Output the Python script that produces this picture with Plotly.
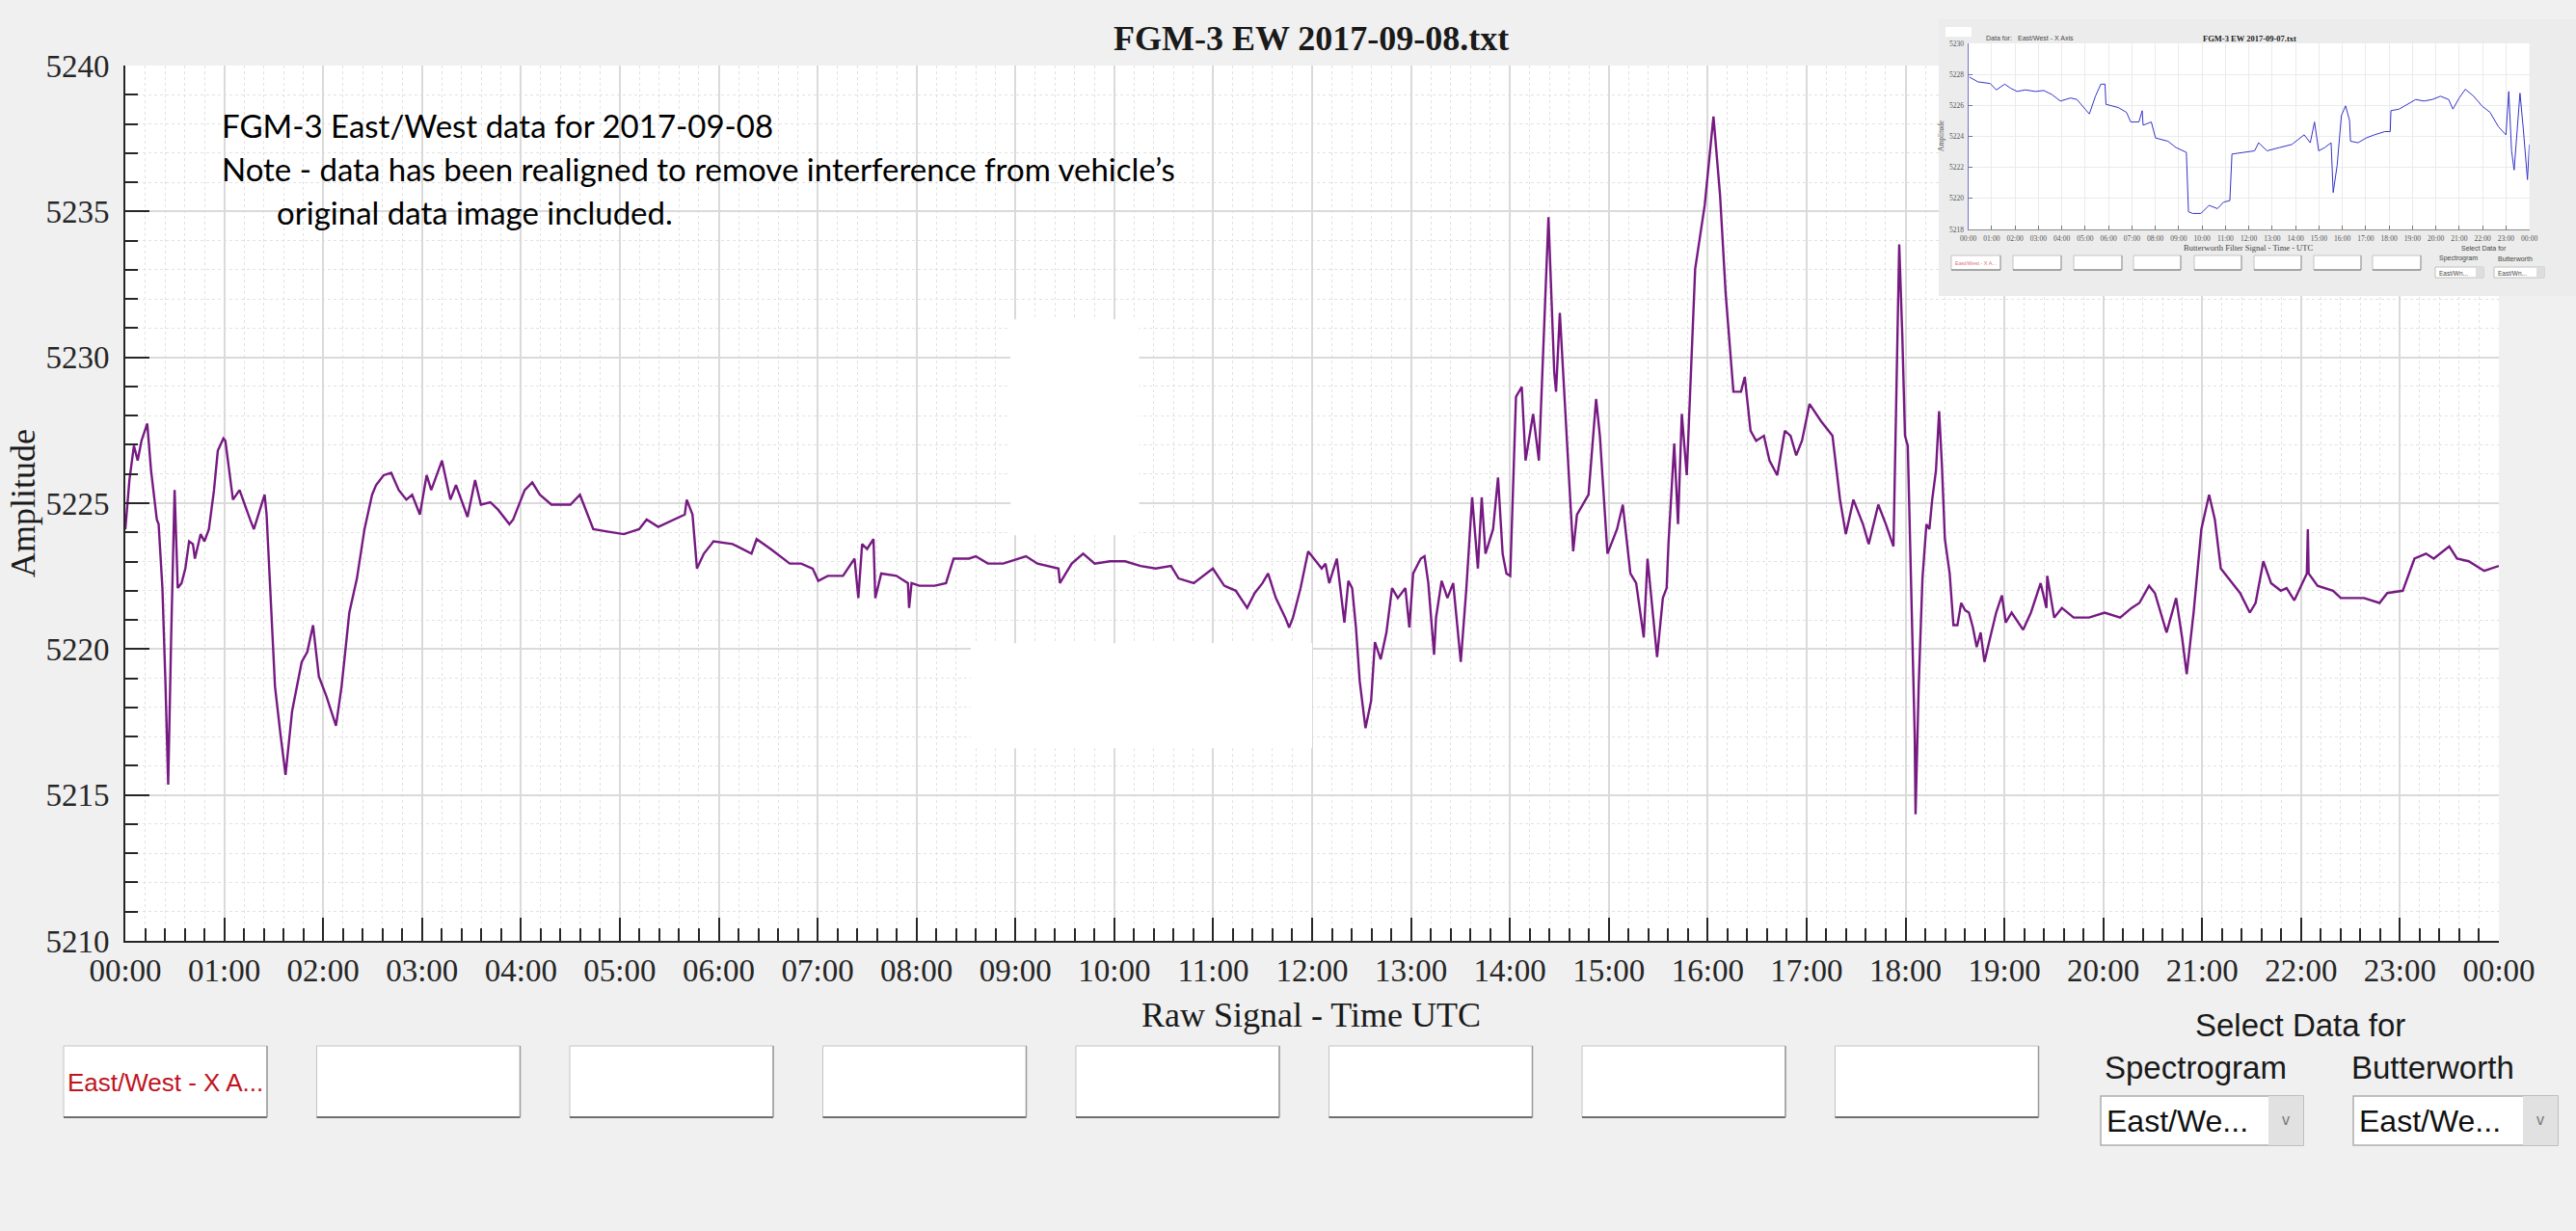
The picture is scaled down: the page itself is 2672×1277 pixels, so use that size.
import plotly.graph_objects as go

# ---------------- main series (time in minutes after 00:00 UTC, amplitude) ----------------
minutes = [
    0.0, 2.5, 5.2, 7.5, 9.8, 13.3, 15.6, 19.1, 20.2, 22.5, 24.4, 26.0, 27.8, 29.9, 31.8, 34.1,
    36.4, 38.7, 41.0, 42.2, 45.7, 48.0, 50.7, 53.8, 56.1, 59.5, 60.7, 63.0, 65.3, 69.3, 72.3,
    75.7, 78.0, 81.5, 84.5, 85.7, 88.4, 90.8, 94.2, 97.2, 101.2, 107.0, 110.4, 113.9, 117.4,
    122.0, 127.8, 131.2, 135.9, 140.5, 145.1, 149.7, 152.1, 156.7, 161.3, 165.9, 170.5, 174.0,
    178.7, 182.8, 185.6, 192.1, 197.2, 200.6, 207.6, 212.2, 215.7, 221.5, 226.1, 233.0, 235.3,
    242.3, 246.9, 251.5, 258.5, 270.0, 275.8, 279.3, 283.9, 293.2, 302.4, 311.7, 316.3, 323.3,
    332.5, 339.4, 340.6, 344.1, 346.8, 351.0, 355.6,
    356.8, 368.4, 379.9, 383.0, 391.5, 403.1, 410.0, 417.0, 420.4, 426.2, 435.4, 442.4, 444.7,
    447.0, 450.0, 453.9, 455.0, 458.6, 467.8, 474.8, 475.5, 477.0, 481.7, 491.0, 497.9, 502.5,
    511.8, 516.0, 523.3, 532.6, 541.8, 546.4, 553.4, 566.1, 567.0, 574.2, 581.1, 588.1, 597.4,
    606.6, 615.9, 625.1, 634.4, 639.0, 648.2, 659.8, 666.7, 673.7, 680.6, 685.2, 689.9, 693.3,
    698.0, 703.7, 706.1, 708.4, 713.0, 717.6,
    721.1, 725.8, 728.1, 730.4, 735.0, 739.6, 742.0, 744.3, 746.6, 748.9, 752.4, 755.8, 758.1,
    761.6, 765.1, 768.5, 772.0, 776.6, 779.0, 781.3, 785.9, 788.2, 790.5, 794.0, 795.2, 798.6,
    802.1, 805.6, 810.2, 813.6, 817.1, 820.6, 822.9, 825.2, 829.8, 832.8, 835.6, 837.9, 840.2,
    843.7, 847.2, 849.5, 854.1, 857.6, 863.4, 866.9, 868.0, 870.3, 876.1, 878.4, 880.7, 887.7,
    892.3, 894.6, 899.2, 905.0, 908.5, 913.1, 916.6, 921.2, 923.5, 925.8, 929.3, 932.8, 935.1,
    936.2, 939.7, 942.0, 944.3, 947.3, 952.4, 958.2, 963.5, 967.5, 970.9, 975.6, 980.2, 982.5,
    986.0, 989.4, 994.1, 997.5, 1002.2, 1006.8, 1010.3, 1013.7, 1017.2, 1021.8, 1028.8, 1035.7,
    1040.3, 1043.8, 1048.4, 1054.2, 1057.7, 1063.5, 1068.1, 1072.7, 1076.2,
    1078.1, 1079.7, 1081.4, 1083.3, 1085.6, 1086.1, 1088.0, 1090.3, 1092.7, 1094.5, 1096.2,
    1098.5, 1100.4, 1102.1, 1103.9, 1106.8, 1109.1, 1111.5, 1113.8, 1116.2, 1118.5, 1120.9,
    1123.2, 1125.6, 1127.9, 1131.4, 1135.0, 1138.5, 1140.8, 1144.4, 1151.4, 1156.1, 1162.0,
    1165.5, 1166.0, 1170.2, 1174.9, 1182.0, 1191.4, 1200.8, 1210.2, 1217.2, 1221.9, 1227.8,
    1231.3, 1238.4, 1244.2, 1247.8, 1250.6, 1254.8, 1259.5, 1264.2, 1267.7, 1271.3, 1278.3,
    1283.0, 1288.9, 1292.4, 1297.1, 1301.8, 1307.7, 1311.2, 1315.9, 1323.5, 1324.1, 1324.6,
    1330.0, 1339.4, 1344.1, 1348.8, 1358.2, 1367.6, 1372.3, 1381.7, 1388.8, 1395.8, 1400.5,
    1409.9, 1414.6, 1421.7, 1431.1, 1440.0,
]
amplitude = [
    5224.1, 5225.8, 5226.97, 5226.46, 5227.14, 5227.73, 5226.13, 5224.44, 5224.28, 5222.09, 5218.72,
    5215.35, 5220.40, 5225.45, 5222.09, 5222.26, 5222.76, 5223.69, 5223.60, 5223.10, 5223.94,
    5223.69, 5224.11, 5225.45, 5226.80, 5227.22, 5227.14, 5226.13, 5225.12, 5225.45, 5224.95,
    5224.44, 5224.11, 5224.78, 5225.29, 5224.61, 5221.25, 5218.72, 5217.04, 5215.69, 5217.88,
    5219.56, 5219.90, 5220.82, 5219.06, 5218.38, 5217.37, 5218.72, 5221.25, 5222.42, 5224.11,
    5225.29, 5225.62, 5225.96, 5226.04, 5225.45, 5225.12, 5225.29, 5224.61, 5225.96, 5225.45,
    5226.46, 5225.12, 5225.62, 5224.53, 5225.79, 5224.95, 5225.03, 5224.78, 5224.28, 5224.44,
    5225.45, 5225.71, 5225.29, 5224.95, 5224.95, 5225.29, 5224.78, 5224.11, 5224.02, 5223.94,
    5224.11, 5224.44, 5224.19, 5224.44, 5224.61, 5225.12, 5224.61, 5222.76, 5223.27, 5223.60,
    5223.69, 5223.60, 5223.27, 5223.77, 5223.43, 5222.93, 5222.93, 5222.76, 5222.34, 5222.51,
    5222.51, 5223.10, 5221.75, 5223.60, 5223.43, 5223.77, 5221.75, 5222.59, 5222.51, 5222.26,
    5221.41, 5222.26, 5222.17, 5222.17, 5222.26, 5223.10, 5223.10, 5223.18, 5222.93, 5222.93,
    5223.10, 5223.18, 5222.93, 5222.76, 5222.26, 5222.93, 5223.27, 5222.93, 5223.01, 5223.01,
    5222.85, 5222.76, 5222.85, 5222.42, 5222.26, 5222.76, 5222.17, 5222.00, 5221.41, 5221.92,
    5222.26, 5222.59, 5221.75, 5221.08, 5220.74, 5221.08, 5222.09, 5223.35,
    5223.10, 5222.76, 5222.93, 5222.26, 5223.10, 5220.91, 5222.34, 5222.09, 5220.74, 5218.89,
    5217.29, 5218.22, 5220.24, 5219.65, 5220.57, 5222.09, 5221.75, 5222.09, 5220.74, 5222.59,
    5223.10, 5223.18, 5222.26, 5219.81, 5221.08, 5222.34, 5221.75, 5222.26, 5219.56, 5222.09,
    5225.20, 5222.76, 5225.20, 5223.27, 5224.11, 5225.88, 5223.27, 5222.59, 5222.51, 5228.65,
    5228.99, 5226.46, 5228.06, 5226.46, 5234.80, 5229.49, 5228.82, 5231.52, 5225.62, 5223.35,
    5224.61, 5225.29, 5228.57, 5227.31, 5223.27, 5224.11, 5224.95, 5222.59, 5222.26, 5220.40,
    5223.10, 5221.75, 5219.73, 5221.75, 5222.09, 5223.60, 5227.05, 5224.28, 5228.06, 5225.96,
    5233.03, 5235.22, 5238.25, 5235.56, 5232.19, 5228.82, 5228.82, 5229.33, 5227.48, 5227.14,
    5227.31, 5226.46, 5225.96, 5227.48, 5227.31, 5226.64, 5227.14, 5228.40, 5227.81, 5227.31,
    5225.12, 5223.94, 5225.12, 5224.28, 5223.60, 5224.95, 5224.28, 5223.52, 5233.87,
    5230.67, 5227.31, 5226.97, 5222.09, 5217.04, 5214.34, 5218.72, 5222.42, 5224.28, 5224.11,
    5225.12, 5226.13, 5228.15, 5226.30, 5223.77, 5222.59, 5220.82, 5220.82, 5221.58, 5221.33,
    5221.25, 5220.74, 5220.07, 5220.57, 5219.56, 5220.40, 5221.25, 5221.84, 5220.91, 5221.25,
    5220.66, 5221.25, 5222.26, 5221.41, 5222.51, 5221.08, 5221.41, 5221.08, 5221.08, 5221.25,
    5221.08, 5221.41, 5221.58, 5222.17, 5221.92, 5220.57, 5221.75, 5220.40, 5219.14, 5221.25,
    5224.11, 5225.29, 5224.44, 5222.76, 5222.26, 5221.92, 5221.25, 5221.58, 5223.01, 5222.26,
    5222.00, 5222.09, 5221.67, 5222.59, 5224.11, 5222.59, 5222.17, 5222.00, 5221.75, 5221.75,
    5221.75, 5221.58, 5221.92, 5222.00, 5223.10, 5223.27, 5223.10, 5223.52, 5223.10, 5223.01,
    5222.68, 5222.85,
]

# ---------------- inset (older screenshot) series: hours, amplitude ----------------
inset_hours = [
    0.05, 0.41, 0.94, 1.20, 1.56, 1.82, 2.09, 2.44, 2.88, 3.23, 3.59, 3.94, 4.38, 4.65, 5.00,
    5.18, 5.44, 5.67, 5.85, 5.89, 6.42, 6.77, 6.95, 7.30, 7.44, 7.48, 7.83, 8.01, 8.54, 8.89,
    9.33, 9.42, 9.60, 9.95, 10.30, 10.66, 10.92, 11.19, 11.28, 11.72, 12.25, 12.42, 12.78,
    13.31, 13.84, 14.37, 14.63, 14.81, 14.99, 15.25, 15.52, 15.61, 15.78, 15.96, 16.14, 16.31,
    16.35, 16.67, 17.02, 17.37, 17.82, 18.05, 18.08, 18.43, 18.79, 19.14, 19.49, 19.85, 20.20,
    20.55, 20.73, 21.00, 21.26, 21.62, 21.97, 22.32, 22.68, 23.00, 23.12, 23.24, 23.35, 23.48,
    23.60, 23.74, 23.92, 24.0,
]
inset_amp = [
    5227.83, 5227.52, 5227.41, 5227.00, 5227.37, 5227.10, 5226.90, 5227.00, 5226.90, 5226.96,
    5226.69, 5226.28, 5226.48, 5226.38, 5225.76, 5225.45, 5226.59, 5227.37, 5227.37, 5226.07,
    5225.86, 5225.55, 5224.93, 5224.93, 5225.66, 5224.72, 5224.93, 5223.90, 5223.69, 5223.28,
    5222.97, 5219.14, 5219.03, 5219.03, 5219.55, 5219.34, 5219.76, 5219.86, 5222.86, 5222.97,
    5223.07, 5223.59, 5223.07, 5223.28, 5223.48, 5224.10, 5223.59, 5224.93, 5223.07, 5223.28,
    5223.59, 5220.38, 5222.14, 5225.34, 5225.97, 5225.03, 5223.69, 5223.59, 5223.90, 5224.10,
    5224.31, 5224.31, 5225.66, 5225.76, 5226.07, 5226.38, 5226.28, 5226.38, 5226.59, 5226.38,
    5225.76, 5226.48, 5227.04, 5226.59, 5225.97, 5225.55, 5224.62, 5224.10, 5226.90, 5223.07,
    5221.83, 5224.72, 5226.79, 5224.52, 5221.21, 5223.48,
]

# ---------------- axis ticks ----------------
hour_ticks = list(range(25))
hour_labels = ["%02d:00" % (h % 24) for h in hour_ticks]
amp_ticks = [5210, 5215, 5220, 5225, 5230, 5235, 5240]
inset_amp_ticks = [5218, 5220, 5222, 5224, 5226, 5228, 5230]

W, H = 2672, 1277
def fx(px):
    return px / W
def fy(py):
    return 1 - py / H

SERIF = "Liberation Serif"
SANS = "Liberation Sans"
AXC = "#262626"

hours = [m / 60 for m in minutes]

fig = go.Figure()
fig.add_trace(go.Scatter(x=hours, y=amplitude, mode="lines",
                         line=dict(color="#761A82", width=2.4),
                         xaxis="x", yaxis="y", hoverinfo="skip", showlegend=False))
# inset panel background
fig.add_trace(go.Scatter(x=[0, 1, 1, 0, 0], y=[0, 0, 1, 1, 0], mode="lines", fill="toself",
                         fillcolor="#ECECEC", line=dict(width=0, color="#ECECEC"),
                         xaxis="x2", yaxis="y2", hoverinfo="skip", showlegend=False))
# inset curve
fig.add_trace(go.Scatter(x=inset_hours, y=inset_amp, mode="lines",
                         line=dict(color="#3434C8", width=1),
                         xaxis="x3", yaxis="y3", hoverinfo="skip", showlegend=False))

fig.update_layout(
    width=W, height=H, margin=dict(l=0, r=0, t=0, b=0, pad=0, autoexpand=False),
    paper_bgcolor="#F0F0F0", plot_bgcolor="#FFFFFF", showlegend=False,
    xaxis=dict(domain=[fx(130), fx(2592)], range=[0, 24], tickmode="array",
               tickvals=hour_ticks, ticktext=hour_labels, ticks="inside", ticklen=24,
               tickwidth=2, tickcolor=AXC, showline=True, linecolor=AXC, linewidth=2,
               showgrid=True, gridcolor="#DADADA", gridwidth=1.5, zeroline=False,
               tickfont=dict(family=SERIF, size=33, color=AXC), ticklabelstandoff=0,
               automargin=False,
               minor=dict(tickmode="linear", tick0=0, dtick=0.2, ticks="inside", ticklen=13,
                          tickwidth=1.5, tickcolor=AXC, showgrid=True, gridcolor="#E2E2E2",
                          griddash="dot", gridwidth=1),
               anchor="y", fixedrange=True),
    yaxis=dict(domain=[fy(976), fy(68)], range=[5210, 5240], tickmode="array",
               tickvals=amp_ticks, ticktext=[str(v) for v in amp_ticks], ticks="inside",
               ticklen=25, tickwidth=2, tickcolor=AXC, showline=True, linecolor=AXC,
               linewidth=2, showgrid=True, gridcolor="#DADADA", gridwidth=1.5, zeroline=False,
               tickfont=dict(family=SERIF, size=33, color=AXC), ticklabelstandoff=8,
               automargin=False,
               minor=dict(tickmode="linear", tick0=5210, dtick=1, ticks="inside", ticklen=13,
                          tickwidth=1.5, tickcolor=AXC, showgrid=True, gridcolor="#E2E2E2",
                          griddash="dot", gridwidth=1),
               anchor="x", fixedrange=True),
    xaxis2=dict(domain=[fx(2011), 1.0], range=[0, 1], visible=False, anchor="y2",
                fixedrange=True, automargin=False),
    yaxis2=dict(domain=[fy(307), fy(20)], range=[0, 1], visible=False, anchor="x2",
                fixedrange=True, automargin=False),
    xaxis3=dict(domain=[fx(2041.6), fx(2623.6)], range=[0, 24], tickmode="array",
                tickvals=hour_ticks, ticktext=hour_labels, ticks="inside", ticklen=4,
                tickcolor="#777", tickwidth=1, showline=True, linecolor="#8A8A8A", linewidth=1,
                showgrid=True, gridcolor="#EBEBEB", gridwidth=1, zeroline=False,
                tickfont=dict(family=SERIF, size=7.5, color="#555"), ticklabelstandoff=2,
                anchor="y3", fixedrange=True, automargin=False),
    yaxis3=dict(domain=[fy(238), fy(45)], range=[5218, 5230], tickmode="array",
                tickvals=inset_amp_ticks, ticktext=[str(v) for v in inset_amp_ticks],
                ticks="inside", ticklen=4, tickcolor="#777", tickwidth=1, showline=True,
                linecolor="#7070D0", linewidth=1, showgrid=True, gridcolor="#EBEBEB",
                gridwidth=1, zeroline=False, tickfont=dict(family=SERIF, size=7.5, color="#555"),
                ticklabelstandoff=2, anchor="x3", fixedrange=True, automargin=False),
)

shapes = []
# white patches (editing artefacts) in the main plot
shapes.append(dict(type="rect", xref="x", yref="y", x0=8.95, x1=10.25, y0=5223.9, y1=5231.3,
                   fillcolor="white", line=dict(width=0), layer="between"))
shapes.append(dict(type="rect", xref="x", yref="y", x0=8.55, x1=12.0, y0=5216.6, y1=5220.2,
                   fillcolor="white", line=dict(width=0), layer="between"))

def button(x0, x1, y0, y1, shadow=2):
    out = [dict(type="rect", xref="paper", yref="paper", x0=fx(x0), x1=fx(x1), y0=fy(y1), y1=fy(y0),
                fillcolor="white", line=dict(color="#C4C4C4", width=1), layer="above"),
           dict(type="line", xref="paper", yref="paper", x0=fx(x0), x1=fx(x1), y0=fy(y1), y1=fy(y1),
                line=dict(color="#6E6E6E", width=shadow), layer="above"),
           dict(type="line", xref="paper", yref="paper", x0=fx(x1), x1=fx(x1), y0=fy(y1), y1=fy(y0),
                line=dict(color="#9A9A9A", width=max(1, shadow - 0.5)), layer="above")]
    return out

# main row of buttons
for i in range(8):
    bx = 66 + 262.5 * i
    shapes += button(bx, bx + 211, 1085, 1159)

# dropdowns
for dx0, dx1 in [(2179, 2389), (2441, 2653)]:
    shapes.append(dict(type="rect", xref="paper", yref="paper", x0=fx(dx0), x1=fx(dx1),
                       y0=fy(1188), y1=fy(1137), fillcolor="white",
                       line=dict(color="#ADADAD", width=1.5), layer="above"))
    shapes.append(dict(type="rect", xref="paper", yref="paper", x0=fx(dx1 - 36), x1=fx(dx1),
                       y0=fy(1188), y1=fy(1137), fillcolor="#E1E1E1",
                       line=dict(width=0), layer="above"))

# inset widgets
shapes.append(dict(type="rect", xref="paper", yref="paper", x0=fx(2018), x1=fx(2045),
                   y0=fy(38), y1=fy(28), fillcolor="white", line=dict(width=0), layer="above"))
for bx0, bx1 in [(2024, 2075), (2088, 2138), (2151, 2201), (2213, 2262), (2276, 2325),
                 (2338, 2387), (2400, 2449), (2461, 2511)]:
    shapes += button(bx0, bx1, 265, 280, shadow=1)
for dx0, dx1 in [(2526, 2576), (2587, 2639)]:
    shapes.append(dict(type="rect", xref="paper", yref="paper", x0=fx(dx0), x1=fx(dx1),
                       y0=fy(288), y1=fy(277), fillcolor="white",
                       line=dict(color="#C0C0C0", width=1), layer="above"))
    shapes.append(dict(type="rect", xref="paper", yref="paper", x0=fx(dx1 - 8), x1=fx(dx1),
                       y0=fy(288), y1=fy(277), fillcolor="#DDDDDD", line=dict(width=0),
                       layer="above"))

fig.update_layout(shapes=shapes)

ann = []
def text(t, x, y, size, family=SERIF, color="#1A1A1A", xanchor="center", yanchor="middle", angle=0):
    ann.append(dict(text=t, x=fx(x), y=fy(y), xref="paper", yref="paper", showarrow=False,
                    xanchor=xanchor, yanchor=yanchor, textangle=angle,
                    font=dict(family=family, size=size, color=color)))

text("<b>FGM-3 EW 2017-09-08.txt</b>", 1360, 40, 36)
text("Amplitude", 24, 522, 36, angle=-90)
text("Raw Signal - Time UTC", 1360, 1053, 36)
text("FGM-3 East/West data for 2017-09-08", 228, 130, 33, family="Lato", color="#000",
     xanchor="left")
text("Note - data has been realigned to remove interference from vehicle’s", 228, 175, 33,
     family="Lato", color="#000", xanchor="left")
text("original data image included.", 285, 220, 33, family="Lato", color="#000", xanchor="left")
text("East/West - X A...", 171, 1123, 26, family=SANS, color="#C0141E")
text("Select Data for", 2386, 1063, 33, family=SANS)
text("Spectrogram", 2277, 1107, 33, family=SANS)
text("Butterworth", 2523, 1107, 33, family=SANS)
text("East/We...", 2183, 1163, 32, family=SANS, color="#111", xanchor="left")
text("East/We...", 2445, 1163, 32, family=SANS, color="#111", xanchor="left")
text("v", 2371, 1161, 16, family=SANS, color="#777")
text("v", 2635, 1161, 16, family=SANS, color="#777")

# inset texts
text("<b>FGM-3 EW 2017-09-07.txt</b>", 2333, 40, 8.5, color="#222")
text("Data for:", 2058, 39, 7, family=SANS, color="#444", xanchor="left")
text("East/West - X Axis", 2091, 39, 7, family=SANS, color="#444", xanchor="left")
text("Amplitude", 2014, 141, 7.5, color="#555", angle=-90)
text("Butterworth Filter Signal - Time - UTC", 2332, 257, 8.5, color="#444")
text("Select Data for", 2576, 258, 7, family=SANS, color="#444")
text("Spectrogram", 2550, 268, 7, family=SANS, color="#444")
text("Butterworth", 2609, 268, 7, family=SANS, color="#444")
text("East/Wn...", 2528, 283, 6.5, family=SANS, color="#444", xanchor="left")
text("East/Wn...", 2589, 283, 6.5, family=SANS, color="#444", xanchor="left")
text("East/West - X A...", 2049, 273, 5.5, family=SANS, color="#E0707C")

fig.update_layout(annotations=ann)

fig.write_html("out.html", config={"displayModeBar": False},
               post_script="document.body.style.margin='0';document.body.style.overflow='hidden';")
